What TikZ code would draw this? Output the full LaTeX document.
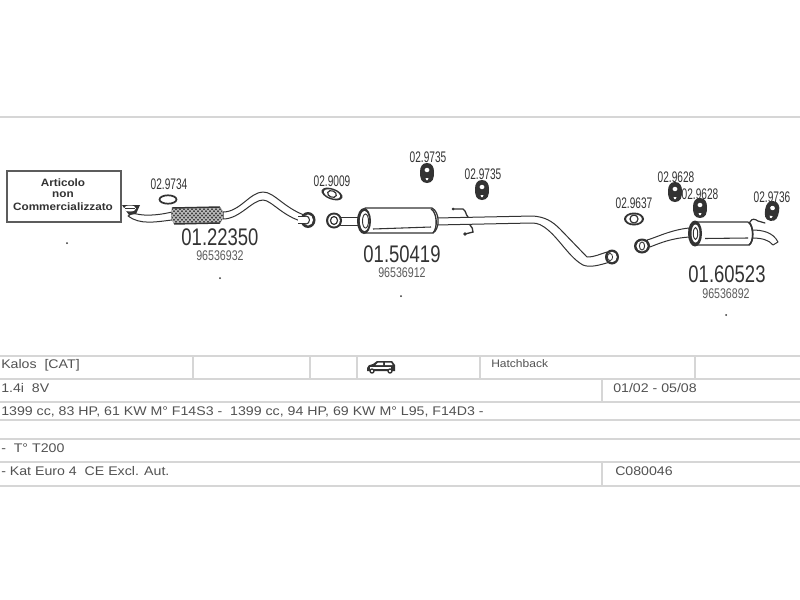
\documentclass[tikz,border=0pt]{standalone}
\usepackage{fontspec}
\setmainfont{Liberation Sans}
\newfontfamily\narA[FakeStretch=.66]{Liberation Sans}
\newfontfamily\narB[FakeStretch=.76]{Liberation Sans}
\newfontfamily\narC[FakeStretch=.77]{Liberation Sans}
\newfontfamily\wideA[FakeStretch=1.13]{Liberation Sans}
\newfontfamily\wideB[FakeStretch=1.1]{Liberation Sans}
\definecolor{ink}{gray}{.2}
\definecolor{rule}{gray}{.84}
\tikzset{
  partno/.style={font=\narA\fontsize{11.5pt}{12pt}\selectfont,text=ink,inner sep=0pt},
  oemno/.style={font=\narB\fontsize{10.5pt}{12pt}\selectfont,text=ink!80,inner sep=0pt},
  mainno/.style={font=\narC\fontsize{18pt}{20pt}\selectfont,text=ink,inner sep=0pt},
  cell/.style={font=\wideA\fontsize{9.4pt}{11pt}\selectfont,text=ink!85,anchor=west,inner sep=0pt},
  boxtext/.style={font=\wideB\bfseries\fontsize{8pt}{9pt}\selectfont,text=ink,inner sep=0pt},
  rule line/.style={draw=rule,line width=1.3pt},
  pipe/.style={draw=ink,fill=white,line width=.75pt,line join=round},
  thin part/.style={draw=ink,line width=.8pt,fill=white},
  dotmark/.style={fill=ink,circle,inner sep=0pt,minimum size=1.5pt}
}
\newcommand\rubber[3]{%
  \begin{scope}[shift={(#1,#2)},rotate=#3]
    \fill[ink] (0,-10) .. controls (5,-10) and (7,-6) .. (7,-1) .. controls (7,5) and (6,10) .. (0,10) .. controls (-6,10) and (-7,5) .. (-7,-1) .. controls (-7,-6) and (-5,-10) .. (0,-10) -- cycle;
    \fill[white] (0,-3) ellipse (2.4 and 2.2);
    \fill[white] (-1.5,5) -- (1.5,5) -- (.8,7) -- (-.8,7) -- cycle;
  \end{scope}}
\begin{document}
\begin{tikzpicture}[x=.75pt,y=-.75pt]
\useasboundingbox (0,0) rectangle (800,600);
\fill[white] (0,0) rectangle (800,600);

% header and table rules
\draw[rule line] (0,117) -- (800,117);
\foreach \yy in {356,379,402,420,439,462,486}
  \draw[rule line] (0,\yy) -- (800,\yy);
\foreach \xx in {193,310,357,480,695}
  \draw[rule line,line width=1pt] (\xx,356) -- (\xx,379);
\draw[rule line,line width=1pt] (602,379) -- (602,402);
\draw[rule line,line width=1pt] (602,462) -- (602,486);

% box
\node[draw=ink!80,line width=.9pt,fill=white,minimum width=85.5pt,minimum height=38.2pt,inner sep=0pt] (box) at (64,196.5) {};
\node[boxtext] (b1) at (63,183) {Articolo};
\node[boxtext] (b2) at (63,195) {non};
\node[boxtext] (b3) at (63,207) {Commercializzato};

% front pipe
\draw[pipe] (133,213) .. controls (142,216) and (155,216) .. (172,212) -- (172,220) .. controls (155,222) and (140,225) .. (128,216) -- cycle;
\draw[pipe] (223,212) .. controls (240,212) and (250,192) .. (263,192) .. controls (275,192) and (285,210) .. (310,217) -- (310,223) .. controls (285,220) and (272,200) .. (263,200) .. controls (252,200) and (240,219) .. (223,219) -- cycle;
\fill[ink] (122,205) -- (140,205) -- (136,214) -- (129,215) -- cycle;
\fill[white] (130,208.5) ellipse (6 and 3);
\draw[ink,line width=.5pt] (125,208.5) -- (135,208.5);
\begin{scope}
  \clip (172,208) -- (220,207) .. controls (224,210) and (224,220) .. (220,223) -- (174,224) .. controls (171,220) and (171,212) .. (172,208) -- cycle;
  \fill[ink!95] (170,205) rectangle (225,226);
  \foreach \k in {150,154,...,240} {
    \draw[white!70!ink,line width=.7pt] (\k,205) -- (\k+20,226);
    \draw[white!70!ink,line width=.7pt] (\k+20,205) -- (\k,226);
  }
\end{scope}
\draw[ink,line width=1.1pt] (172,208) -- (220,207) (174,224) -- (220,223);

% gasket 02.9734
\draw[ink,line width=1.3pt,fill=white] (168,199.5) ellipse (8.5 and 4.2);

% flange at front pipe end
\fill[ink] (308,220) ellipse (7.5 and 8);
\fill[white] (308,220) ellipse (5 and 5.5);
\draw[ink,line width=.8pt] (306,220) ellipse (3.5 and 4);
\fill[white] (298,216.5) rectangle (305,223);
\draw[ink,line width=.7pt] (298,216.5) -- (305,216.5) (298,223) -- (305,223);

% gasket 02.9009
\begin{scope}[shift={(332,194)},rotate=-20]
  \fill[ink] (0,0) ellipse (11 and 5.5);
  \fill[white] (0,0) ellipse (8.5 and 4);
  \draw[ink,line width=.9pt] (0,0) ellipse (4.5 and 3.2);
\end{scope}

% middle pipe
\draw[pipe] (340,217) -- (362,217) -- (362,225) -- (340,225) -- cycle;
\fill[ink] (334,220.5) ellipse (8 and 8);
\fill[white] (334,220.5) ellipse (5.8 and 6);
\draw[ink,line width=.9pt] (334,220.5) ellipse (3.5 and 4);
\draw[pipe] (436,218) -- (533,216) .. controls (545,217) and (552,221) .. (560,229) -- (587,257) .. controls (595,257) and (600,254) .. (607,252) -- (610,262) .. controls (600,265) and (590,268) .. (583,265) .. controls (570,258) and (560,240) .. (548,230) .. controls (542,225) and (538,223) .. (532,223) -- (436,225) -- cycle;
\fill[ink] (612,257) ellipse (7 and 7.5);
\fill[white] (612,257) ellipse (4.8 and 5.2);
\draw[ink,line width=.6pt] (610,257) ellipse (2.6 and 3.6);

% centre muffler
\draw[pipe,line width=.9pt] (365,208) -- (432,208) .. controls (440,212) and (440,229) .. (433,233) -- (365,233) -- cycle;
\fill[ink] (364,221) ellipse (7 and 13);
\fill[white] (364.5,221) ellipse (4.6 and 10);
\draw[ink,line width=.7pt] (365.5,221) ellipse (3 and 7);
\draw[ink,line width=.8pt] (373,229) -- (431,227);
\draw[ink,line width=1pt] (431,209) .. controls (437,212) and (438,228) .. (433,233);

% hooks on middle pipe
\draw[ink,line width=1pt,line cap=round] (453,209) -- (463,209) .. controls (467,212) and (465,214) .. (468,217);
\fill[ink] (453,209) circle (1.5);
\draw[ink,line width=1pt,line cap=round] (465,234) -- (473,232) .. controls (474,229) and (471,227) .. (470,225);
\fill[ink] (465,234) circle (1.8);

% rubbers middle
\rubber{427}{173}{0}
\rubber{482}{190}{0}

% rear section
\fill[ink] (634,219) ellipse (10 and 6.5);
\fill[white] (634,219) ellipse (7.8 and 4.6);
\draw[ink,line width=.9pt] (634,219) ellipse (4 and 4);

\draw[pipe] (647,240) .. controls (655,238) and (670,230) .. (689,228) -- (690,237) .. controls (672,238) and (660,243) .. (650,247) -- cycle;
\fill[ink] (642,246) ellipse (8 and 7.5);
\fill[white] (642,246) ellipse (5.6 and 5.4);
\draw[ink,line width=.7pt] (642,246) ellipse (2.6 and 4);

\draw[pipe] (752,230) .. controls (762,230) and (773,232) .. (778,242) -- (773,245) .. controls (769,240) and (762,238) .. (752,238) -- cycle;
\draw[pipe,line width=.9pt] (696,222) -- (748,222) .. controls (754,226) and (754,242) .. (749,245) -- (696,245) -- cycle;
\fill[ink] (695,233.5) ellipse (7 and 13);
\fill[white] (695.5,233.5) ellipse (4 and 9);
\draw[ink,line width=.7pt] (695.5,233.5) ellipse (2.2 and 6);
\draw[ink,line width=.8pt] (705,238.5) -- (748,238);
\draw[ink,line width=1.2pt] (749,222) .. controls (754,227) and (754,242) .. (749,245);
\draw[ink,line width=.9pt,line cap=round] (750,222) .. controls (752,218) and (755,219) .. (758,221) -- (765,223);

\rubber{675}{192}{0}
\rubber{700}{208}{0}
\rubber{772}{211}{-10}

% part numbers
\node[partno] (p1) at (169,184) {02.9734};
\node[mainno] (m1) at (220,237) {01.22350};
\node[oemno] (o1) at (220,256) {96536932};
\node[partno] (p2) at (332,181) {02.9009};
\node[partno] (p3) at (428,157) {02.9735};
\node[partno] (p4) at (483,174) {02.9735};
\node[mainno] (m2) at (402,254) {01.50419};
\node[oemno] (o2) at (402,273) {96536912};
\node[partno] (p5) at (634,203) {02.9637};
\node[partno] (p6) at (676,177) {02.9628};
\node[partno] (p7) at (700,194) {02.9628};
\node[partno] (p8) at (772,197) {02.9736};
\node[mainno] (m3) at (727,274) {01.60523};
\node[oemno] (o3) at (726,294) {96536892};

% specks
\node[dotmark] (d1) at (67,243) {};
\node[dotmark] (d2) at (220,278) {};
\node[dotmark] (d3) at (401,296) {};
\node[dotmark] (d4) at (726,315) {};

% table text
\node[cell] (t1) at (1,365) {Kalos\ \ [CAT]};
\node[cell,font=\wideB\fontsize{8.2pt}{10pt}\selectfont] (t2) at (491,364) {Hatchback};
\node[cell] (t3) at (1,388) {1.4i\ \ 8V};
\node[cell] (t4) at (613,388) {01/02 - 05/08};
\node[cell] (t5) at (1,412) {1399 cc, 83 HP, 61 KW M° F14S3 -\ \ 1399 cc, 94 HP, 69 KW M° L95, F14D3 -};
\node[cell] (t6) at (1,448) {-\ \ T° T200};
\node[cell] (t7) at (1,471) {- Kat Euro 4\ \ CE Excl. Aut.};
\node[cell] (t8) at (615,471) {C080046};

% car icon
\fill[ink] (367,368) .. controls (367,365) and (370,365) .. (373,364) -- (377,361) -- (392,361) -- (395,365) -- (395,371) -- (367,371) -- cycle;
\fill[white] (378,362.5) -- (383,362.5) -- (383,365) -- (375.5,365) -- cycle;
\fill[white] (385,362.5) -- (391,362.5) -- (392.5,365) -- (385,365) -- cycle;
\fill[white] (370,367) rectangle (391,369);
\draw[ink,fill=white,line width=1pt] (372,371) circle (2);
\draw[ink,fill=white,line width=1pt] (390,371) circle (2);
\end{tikzpicture}
\end{document}
